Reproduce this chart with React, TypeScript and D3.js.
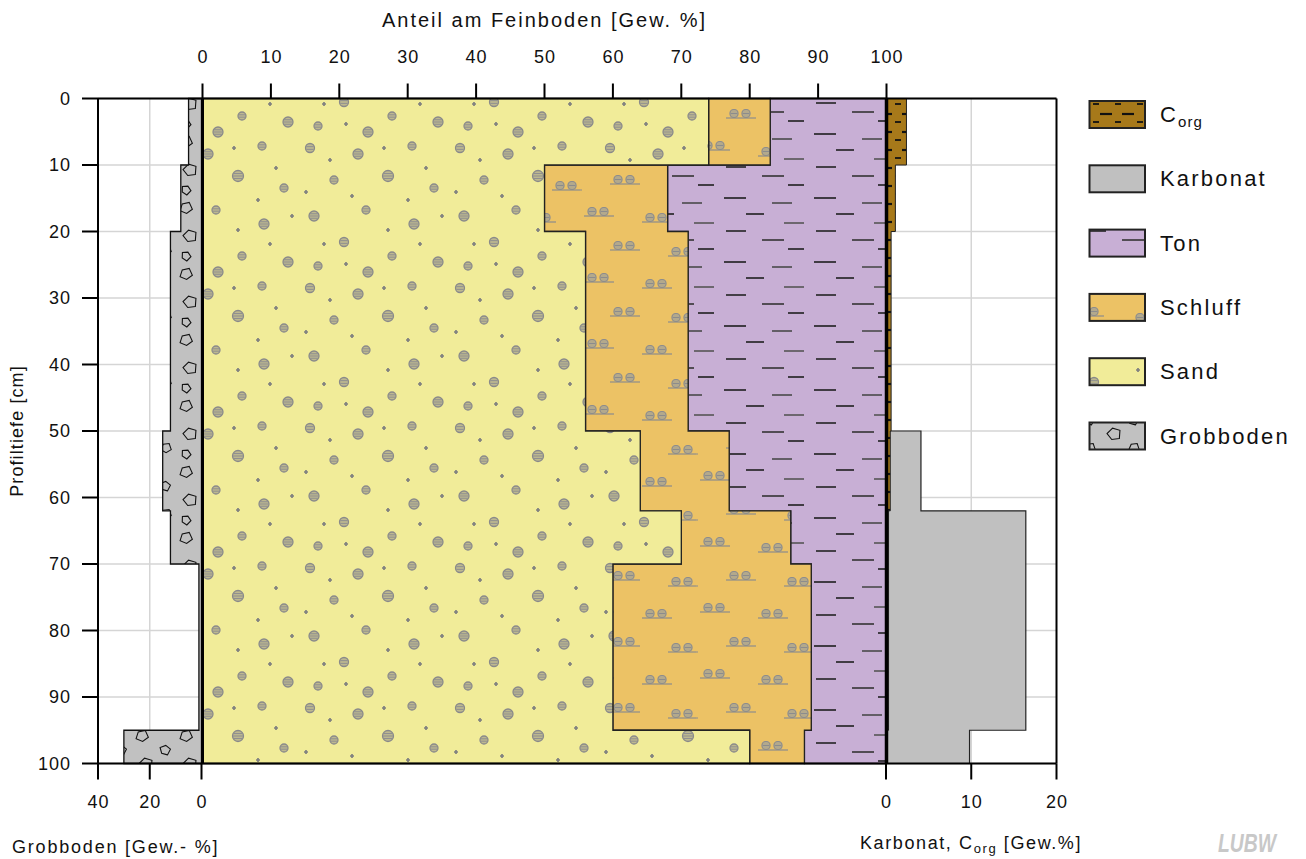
import React from "react";
import * as d3 from "d3";

// Soil profile: horizons (depth intervals in cm)
const depthTop = [0, 10, 20, 50, 62, 70, 95];
const depthBottom = [10, 20, 50, 62, 70, 95, 100];

// Fine-earth composition per horizon [Gew. %]
const sand = [74, 50, 56, 64, 70, 60, 80];
const schluff = [9, 18, 15, 13, 16, 29, 8];
const ton = [17, 32, 29, 23, 14, 11, 12];

// Coarse fraction, carbonate and organic carbon per horizon [Gew. %]
const grobboden = [5, 8, 12, 15, 12, 1, 30];
const karbonat = [0, 0, 0, 4.1, 16.4, 16.4, 9.8];
const corg = [2.4, 1.1, 0.6, 0.5, 0.3, 0.3, 0];

// Axis ticks
const feinTicks = [0, 10, 20, 30, 40, 50, 60, 70, 80, 90, 100];
const depthTicks = [0, 10, 20, 30, 40, 50, 60, 70, 80, 90, 100];
const grobTicks = [40, 20, 0];
const karbTicks = [0, 10, 20];

const legendItems = [
  { key: "corg", label: "C", sub: "org", fill: "url(#pCorg)" },
  { key: "karb", label: "Karbonat", sub: "", fill: "#c0c0c0" },
  { key: "ton", label: "Ton", sub: "", fill: "url(#pTon)" },
  { key: "schluff", label: "Schluff", sub: "", fill: "url(#pSchluff)" },
  { key: "sand", label: "Sand", sub: "", fill: "url(#pSand)" },
  { key: "grob", label: "Grobboden", sub: "", fill: "url(#pGrob)" },
];

const FONT = "'Liberation Sans', Arial, sans-serif";

const y = d3.scaleLinear().domain([0, 100]).range([98.5, 763.5]);
const xFein = d3.scaleLinear().domain([0, 100]).range([202.5, 886.5]);
const xGrob = d3.scaleLinear().domain([0, 40]).range([201.5, 98]);
const xKarb = d3.scaleLinear().domain([0, 20]).range([886, 1056.5]);

const X_LEFT = xGrob(40);
const X_RIGHT = xKarb(20);
const Y_TOP = y(0);
const Y_BOTTOM = y(100);

// Stepped band between two per-horizon boundaries
function stepBand(lo: number[], hi: number[], sx: (v: number) => number): string {
  const right: [number, number][] = [];
  const left: [number, number][] = [];
  depthTop.forEach((t, i) => {
    right.push([sx(hi[i]), y(t)], [sx(hi[i]), y(depthBottom[i])]);
    left.push([sx(lo[i]), y(t)], [sx(lo[i]), y(depthBottom[i])]);
  });
  return (d3.line()([...right, ...left.reverse()]) || "") + "Z";
}

function pentagon(cx: number, cy: number, r: number, rot: number): string {
  const pts: string[] = [];
  for (let k = 0; k < 5; k++) {
    const a = rot + (k * 2 * Math.PI) / 5;
    const rr = r * (k % 2 === 0 ? 1 : 0.85);
    pts.push(`${(cx + rr * Math.cos(a)).toFixed(2)},${(cy + rr * Math.sin(a)).toFixed(2)}`);
  }
  return pts.join(" ");
}

function StripedDot({ cx, cy, r }: { cx: number; cy: number; r: number }) {
  const lines = r >= 5 ? [-0.45, 0, 0.45] : [-0.3, 0.3];
  return (
    <g>
      <circle cx={cx} cy={cy} r={r} fill="#bdb88f" stroke="#8a8a8a" strokeWidth={1.3} />
      {lines.map((f, i) => {
        const dy = f * r;
        const half = Math.sqrt(Math.max(r * r - dy * dy, 0)) - 0.6;
        return (
          <line key={i} x1={cx - half} x2={cx + half} y1={cy + dy} y2={cy + dy} stroke="#8f8f8f" strokeWidth={1} />
        );
      })}
    </g>
  );
}

function Speck({ cx, cy }: { cx: number; cy: number }) {
  return (
    <path
      d={`M${cx - 2},${cy}h4M${cx},${cy - 2}v4`}
      stroke="#7f7f7f"
      strokeWidth={1.7}
    />
  );
}

function SiltGroup({ gx, gy }: { gx: number; gy: number }) {
  return (
    <g>
      <line x1={gx} x2={gx + 30} y1={gy} y2={gy} stroke="#8c8c8c" strokeWidth={1.2} />
      {[8, 20].map((o) => (
        <g key={o}>
          <rect x={gx + o - 4} y={gy - 8.5} width={8} height={8} rx={3.6} fill="#b3a98c" stroke="#8c8c8c" strokeWidth={1.2} />
          <line x1={gx + o - 3.2} x2={gx + o + 3.2} y1={gy - 4.5} y2={gy - 4.5} stroke="#8c8c8c" strokeWidth={1} />
        </g>
      ))}
    </g>
  );
}

const sandDots = [
  { cx: 10, cy: 8, r: 4.5 }, { cx: 58, cy: 14, r: 5 }, { cx: 112, cy: 6, r: 4 },
  { cx: 34, cy: 40, r: 4 }, { cx: 88, cy: 36, r: 5.5 }, { cx: 134, cy: 48, r: 4 },
  { cx: 14, cy: 76, r: 5 }, { cx: 66, cy: 70, r: 4 }, { cx: 114, cy: 84, r: 5 },
  { cx: 44, cy: 102, r: 4.5 }, { cx: 92, cy: 116, r: 4 }, { cx: 138, cy: 122, r: 5 },
  { cx: 18, cy: 126, r: 4 }, { cx: 68, cy: 132, r: 5 },
];
const sandSpecks = [
  { cx: 30, cy: 20 }, { cx: 84, cy: 8 }, { cx: 126, cy: 28 }, { cx: 52, cy: 56 },
  { cx: 108, cy: 60 }, { cx: 6, cy: 52 }, { cx: 142, cy: 76 }, { cx: 88, cy: 90 },
  { cx: 24, cy: 104 }, { cx: 120, cy: 104 }, { cx: 46, cy: 124 },
];
const siltGroups = [
  { gx: 4, gy: 18 }, { gx: 62, gy: 24 }, { gx: 30, gy: 52 }, { gx: 88, gy: 58 }, { gx: -28, gy: 58 },
];
const tonDashes = [
  { x: 4, y: 6, w: 22, c: "#1e1e1e" }, { x: 52, y: 11, w: 20, c: "#4a4a4a" },
  { x: 26, y: 22, w: 18, c: "#1e1e1e" }, { x: 64, y: 31, w: 20, c: "#555" },
  { x: 6, y: 39, w: 20, c: "#222" }, { x: 42, y: 48, w: 22, c: "#333" },
  { x: 68, y: 57, w: 16, c: "#1e1e1e" },
];
const grobStones = [
  { cx: 10, cy: 10, r: 6.5, a: 0.2 }, { cx: 33, cy: 24, r: 5.5, a: 1.1 },
  { cx: 14, cy: 38, r: 7, a: 0.7 }, { cx: 34, cy: 52, r: 5.5, a: 0.3 },
  { cx: 10, cy: 58, r: 5, a: 1.4 },
];

export default function App() {
  const sandHi = sand;
  const schluffHi = sand.map((s, i) => s + schluff[i]);
  const tonHi = schluffHi.map((v, i) => v + ton[i]);
  const zeros = depthTop.map(() => 0);

  const txt = { fontFamily: FONT, fill: "#111" } as const;

  return (
    <svg width={1306} height={859} style={{ display: "block", position: "absolute", left: 0, top: 0 }}>
      <defs>
        <pattern id="pSand" patternUnits="userSpaceOnUse" width={150} height={140}>
          <rect width={150} height={140} fill="#f1ec99" />
          {sandDots.map((d, i) => <StripedDot key={i} {...d} />)}
          {sandSpecks.map((d, i) => <Speck key={i} {...d} />)}
        </pattern>
        <pattern id="pSchluff" patternUnits="userSpaceOnUse" width={116} height={66}>
          <rect width={116} height={66} fill="#ecc265" />
          {siltGroups.map((g, i) => <SiltGroup key={i} {...g} />)}
        </pattern>
        <pattern id="pTon" patternUnits="userSpaceOnUse" width={90} height={64}>
          <rect width={90} height={64} fill="#c8afd5" />
          {tonDashes.map((d, i) => (
            <line key={i} x1={d.x} x2={d.x + d.w} y1={d.y} y2={d.y} stroke={d.c} strokeWidth={1.6} />
          ))}
        </pattern>
        <pattern id="pGrob" patternUnits="userSpaceOnUse" width={44} height={66}>
          <rect width={44} height={66} fill="#c1c1c1" />
          {grobStones.map((s, i) => (
            <polygon key={i} points={pentagon(s.cx, s.cy, s.r, s.a)} fill="none" stroke="#111" strokeWidth={1.1} />
          ))}
        </pattern>
        <pattern id="pCorg" patternUnits="userSpaceOnUse" width={22} height={18}>
          <rect width={22} height={18} fill="#a7791a" />
          <line x1={0} x2={12} y1={6} y2={6} stroke="#111" strokeWidth={2.2} />
          <line x1={15} x2={21} y1={14} y2={14} stroke="#111" strokeWidth={1.8} />
        </pattern>
      </defs>

      <rect width={1306} height={859} fill="#fff" />

      {/* grid */}
      <g stroke="#d5d5d5" strokeWidth={1.5}>
        {depthTicks.map((t) => (
          <line key={t} x1={X_LEFT} x2={X_RIGHT} y1={y(t)} y2={y(t)} />
        ))}
        <line x1={xGrob(20)} x2={xGrob(20)} y1={Y_TOP} y2={Y_BOTTOM} />
        <line x1={xKarb(10)} x2={xKarb(10)} y1={Y_TOP} y2={Y_BOTTOM} />
      </g>

      {/* coarse fraction */}
      <path d={stepBand(zeros, grobboden, xGrob)} fill="url(#pGrob)" stroke="#111" strokeWidth={1.3} />

      {/* fine earth */}
      <path d={stepBand(schluffHi, tonHi, xFein)} fill="url(#pTon)" stroke="#222" strokeWidth={1.3} />
      <path d={stepBand(sandHi, schluffHi, xFein)} fill="url(#pSchluff)" stroke="#222" strokeWidth={1.3} />
      <path d={stepBand(zeros, sandHi, xFein)} fill="url(#pSand)" stroke="#222" strokeWidth={1.3} />

      {/* carbonate and organic carbon */}
      <path d={stepBand(zeros, karbonat, xKarb)} fill="#c0c0c0" stroke="#222" strokeWidth={1.2} />
      <path d={stepBand(zeros, corg, xKarb)} fill="url(#pCorg)" stroke="#222" strokeWidth={1} />

      {/* frame */}
      <g stroke="#000" fill="none">
        <line x1={X_LEFT} x2={X_RIGHT} y1={Y_TOP} y2={Y_TOP} strokeWidth={2} />
        <line x1={X_LEFT} x2={X_RIGHT} y1={Y_BOTTOM} y2={Y_BOTTOM} strokeWidth={2} />
        <line x1={X_LEFT} x2={X_LEFT} y1={Y_TOP} y2={Y_BOTTOM} strokeWidth={2} />
        <line x1={X_RIGHT} x2={X_RIGHT} y1={Y_TOP} y2={Y_BOTTOM} strokeWidth={2} />
        <line x1={xFein(0)} x2={xFein(0)} y1={Y_TOP} y2={Y_BOTTOM} strokeWidth={3} />
        <line x1={xFein(100)} x2={xFein(100)} y1={Y_TOP} y2={Y_BOTTOM} strokeWidth={3.5} />
      </g>

      {/* depth axis */}
      <g>
        {depthTicks.map((t) => (
          <g key={t}>
            <line x1={X_LEFT - 16} x2={X_LEFT} y1={y(t)} y2={y(t)} stroke="#000" strokeWidth={2} />
            <text x={71} y={y(t)} dy="0.36em" textAnchor="end" fontSize={18} letterSpacing={1} {...txt}>
              {t}
            </text>
          </g>
        ))}
        <text
          transform={`translate(23,${(Y_TOP + Y_BOTTOM) / 2}) rotate(-90)`}
          textAnchor="middle"
          fontSize={18}
          letterSpacing={1.1}
          {...txt}
        >
          Profiltiefe [cm]
        </text>
      </g>

      {/* fine earth axis (top) */}
      <g>
        {feinTicks.map((t) => (
          <g key={t}>
            <line x1={xFein(t)} x2={xFein(t)} y1={Y_TOP - 15} y2={Y_TOP} stroke="#000" strokeWidth={2} />
            <text x={xFein(t) + 0.5} y={63} textAnchor="middle" fontSize={18} letterSpacing={1} {...txt}>
              {t}
            </text>
          </g>
        ))}
        <text x={xFein(50)} y={27} textAnchor="middle" fontSize={20} letterSpacing={2} {...txt}>
          Anteil am Feinboden [Gew. %]
        </text>
      </g>

      {/* coarse fraction axis (bottom left) */}
      <g>
        {grobTicks.map((t) => (
          <g key={t}>
            <line x1={xGrob(t)} x2={xGrob(t)} y1={Y_BOTTOM} y2={Y_BOTTOM + 16} stroke="#000" strokeWidth={2} />
            <text x={xGrob(t) + 0.5} y={808} textAnchor="middle" fontSize={18} letterSpacing={1} {...txt}>
              {t}
            </text>
          </g>
        ))}
        <text x={12} y={853} fontSize={18} letterSpacing={1.8} {...txt}>
          Grobboden [Gew.- %]
        </text>
      </g>

      {/* carbonate axis (bottom right) */}
      <g>
        {karbTicks.map((t) => (
          <g key={t}>
            <line x1={xKarb(t)} x2={xKarb(t)} y1={Y_BOTTOM} y2={Y_BOTTOM + 16} stroke="#000" strokeWidth={2} />
            <text x={xKarb(t) + 0.5} y={808} textAnchor="middle" fontSize={18} letterSpacing={1} {...txt}>
              {t}
            </text>
          </g>
        ))}
        <text x={860} y={849} fontSize={18} letterSpacing={1.6} {...txt}>
          Karbonat, C<tspan fontSize={13} dy={4}>org</tspan>
          <tspan dy={-4}> [Gew.%]</tspan>
        </text>
      </g>

      {/* legend */}
      <g>
        {legendItems.map((it, i) => {
          const top = 101 + i * 64.3;
          return (
            <g key={it.key}>
              <rect x={1089.5} y={top} width={55.5} height={27} fill={it.fill} stroke="#222" strokeWidth={2} />
              <text x={1160} y={top + 21} fontSize={22} letterSpacing={2.2} {...txt}>
                {it.label}
                {it.sub ? (
                  <tspan fontSize={15} dy={5} letterSpacing={1}>
                    {it.sub}
                  </tspan>
                ) : null}
              </text>
            </g>
          );
        })}
      </g>

      {/* logo */}
      <text
        x={1218}
        y={852}
        fontSize={25}
        fontWeight="bold"
        fontStyle="italic"
        textLength={58}
        lengthAdjust="spacingAndGlyphs"
        fill="#c8c8c8"
        fontFamily={FONT}
      >
        LUBW
      </text>
    </svg>
  );
}
